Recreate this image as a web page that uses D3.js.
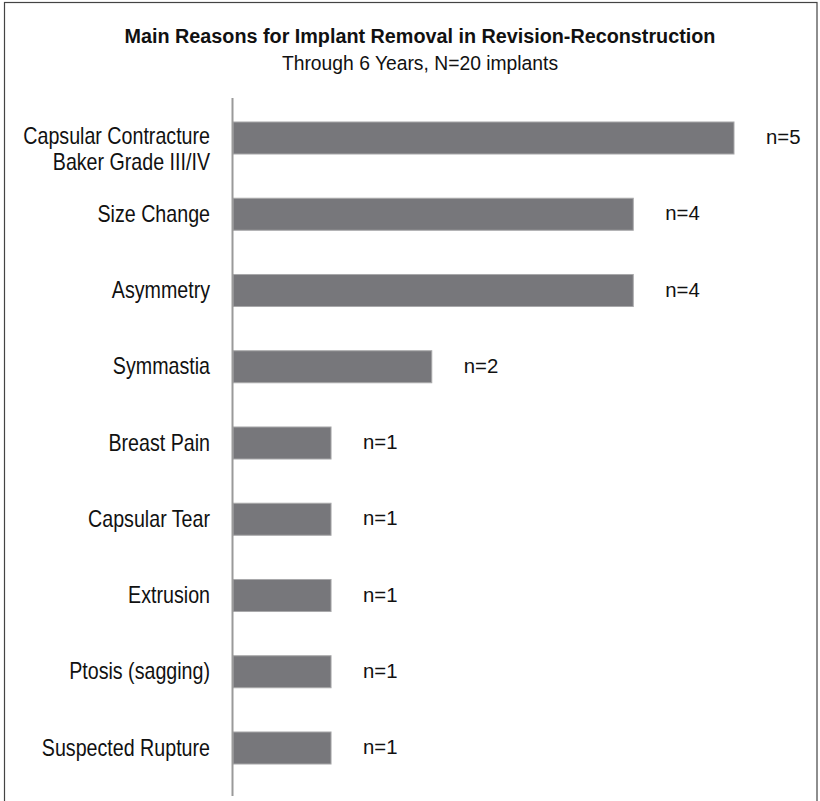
<!DOCTYPE html>
<html>
<head>
<meta charset="utf-8">
<script src="https://cdn.jsdelivr.net/npm/d3@7"></script>
<style>
  html, body { margin: 0; padding: 0; background: #fff; }
  svg { display: block; }
  text { font-family: "Liberation Sans", Arial, sans-serif; }
</style>
</head>
<body>
<div id="chart"></div>
<script>
// ---- data ----
const titleText = "Main Reasons for Implant Removal in Revision-Reconstruction";
const subtitleText = "Through 6 Years, N=20 implants";
const categories = [
  ["Capsular Contracture", "Baker Grade III/IV"],
  ["Size Change"],
  ["Asymmetry"],
  ["Symmastia"],
  ["Breast Pain"],
  ["Capsular Tear"],
  ["Extrusion"],
  ["Ptosis (sagging)"],
  ["Suspected Rupture"]
];
const values = [5, 4, 4, 2, 1, 1, 1, 1, 1];
const valueLabels = ["n=5", "n=4", "n=4", "n=2", "n=1", "n=1", "n=1", "n=1", "n=1"];

// ---- layout ----
const W = 820, H = 801;
const axisX = 232.5;
const condense = 0.855;
const svg = d3.select("#chart").append("svg").attr("width", W).attr("height", H);

svg.append("rect").attr("width", W).attr("height", H).attr("fill", "#fff");
// frame
svg.append("rect")
  .attr("x", 4.5).attr("y", 2.5).attr("width", 812.5).attr("height", 900)
  .attr("fill", "none").attr("stroke", "#444").attr("stroke-width", 1.2);

// title
svg.append("text").attr("transform", "translate(420,42.5) scale(0.965,1)")
  .attr("text-anchor", "middle")
  .attr("font-size", 20.5).attr("font-weight", "bold").attr("fill", "#111").text(titleText);
svg.append("text").attr("transform", "translate(420,70) scale(0.99,1)")
  .attr("text-anchor", "middle")
  .attr("font-size", 19.5).attr("fill", "#111").text(subtitleText);

const ids = categories.map((c, i) => i);
const y = d3.scaleBand().domain(ids).range([99.875, 99.875 + 9 * 76.25])
  .paddingInner(0.58).paddingOuter(0.29);
const x = d3.scaleLinear().domain([0, 5]).range([230.3, 734]);

// bars
svg.append("g").selectAll("rect").data(values).join("rect")
  .attr("x", axisX + 0.5)
  .attr("y", (d, i) => y(i))
  .attr("width", d => x(d) - axisX - 0.5)
  .attr("height", y.bandwidth())
  .attr("fill", "#77777b")
  .attr("stroke", "#a8a8aa").attr("stroke-width", 1);

// axis line
svg.append("line").attr("x1", axisX).attr("x2", axisX).attr("y1", 98).attr("y2", 796)
  .attr("stroke", "#9a9a9a").attr("stroke-width", 2);

// category labels
const lab = svg.append("g").selectAll("text").data(categories).join("text")
  .attr("text-anchor", "end").attr("font-size", 23).attr("fill", "#111")
  .attr("transform", (d, i) => `translate(210,${y(i) + y.bandwidth() / 2}) scale(${condense},1)`);
lab.each(function (lines) {
  const t = d3.select(this);
  lines.forEach((ln, j) => {
    t.append("tspan").attr("x", 0)
      .attr("y", lines.length > 1 ? 5.5 + j * 27 : 7.5)
      .text(ln);
  });
});

// value labels
svg.append("g").selectAll("text").data(values).join("text")
  .attr("transform", (d, i) => `translate(${x(d) + 32},${y(i) + y.bandwidth() / 2 + 6}) scale(0.97,1)`)
  .attr("font-size", 21).attr("fill", "#111")
  .text((d, i) => valueLabels[i]);
</script>
</body>
</html>
